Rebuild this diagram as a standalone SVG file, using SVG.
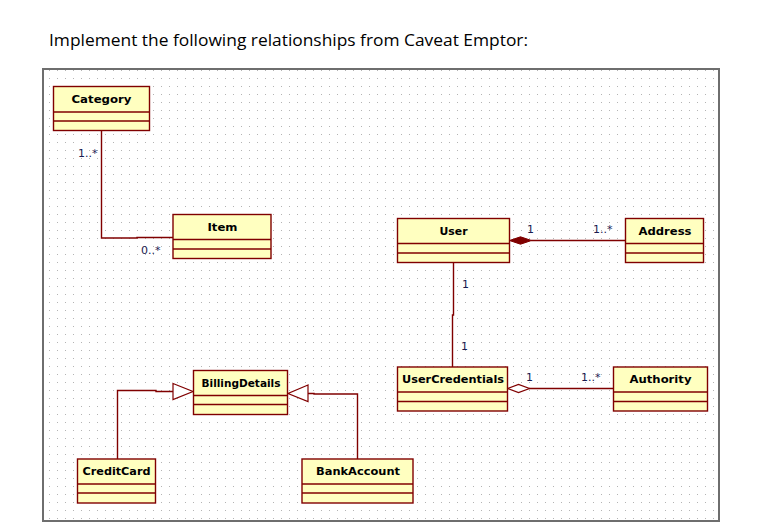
<svg xmlns="http://www.w3.org/2000/svg" width="759" height="532" viewBox="0 0 759 532">
<style>
.box{fill:#ffffc0;stroke:#800000;stroke-width:1.4}
.div{stroke:#800000;stroke-width:1.4}
.name{font-family:"DejaVu Sans",Verdana,sans-serif;font-weight:bold;font-size:11px;fill:#000;text-anchor:middle}
.lbl{font-family:"DejaVu Sans",Verdana,sans-serif;font-size:11px;fill:#1a1a50}
.edge{fill:none;stroke:#800000;stroke-width:1.4}
</style>
<defs>
<pattern id="dots" patternUnits="userSpaceOnUse" x="1" y="6" width="8" height="8">
<rect x="0" y="0" width="1" height="1" fill="#b4b4b4"/>
</pattern>
</defs>
<rect width="759" height="532" fill="#fff"/>
<text x="49" y="46" font-family="'Open Sans','Noto Sans',sans-serif" font-size="16" fill="#000" textLength="479" lengthAdjust="spacingAndGlyphs">Implement the following relationships from Caveat Emptor:</text>
<rect x="44" y="70" width="674" height="450" fill="url(#dots)"/>
<rect x="43" y="69" width="676" height="452" fill="none" stroke="#6e6e6e" stroke-width="2"/>

<g id="connectors">
<polyline class="edge" points="101.5,130 101.5,238 137,238 137,237.5 173,237.5"/>
<line class="edge" x1="531" y1="240.5" x2="625" y2="240.5"/>
<polygon points="509.5,240.5 520.5,236.8 531.5,240.5 520.5,244.2" fill="#800000" stroke="#800000" stroke-width="1"/>
<polyline class="edge" points="453.5,262 453.5,315 452.5,315 452.5,367"/>
<line class="edge" x1="529" y1="388.5" x2="613" y2="388.5"/>
<polygon points="507.5,388.5 518.5,384.5 529.5,388.5 518.5,392.5" fill="#fff" stroke="#800000" stroke-width="1.2"/>
<polyline class="edge" points="117.5,459 117.5,390.5 156,390.5 156,391.5 173,391.5"/>
<polygon points="173,383.5 193,391.5 173,399.5" fill="#fff" stroke="#800000" stroke-width="1.2"/>
<polyline class="edge" points="357.5,459 357.5,394 314,394 314,393.5 308,393.5"/>
<polygon points="308,385 288,393.5 308,401.5" fill="#fff" stroke="#800000" stroke-width="1.2"/>
<text class="lbl" x="78" y="157">1..*</text>
<text class="lbl" x="141" y="254">0..*</text>
<text class="lbl" x="527" y="233">1</text>
<text class="lbl" x="593" y="233">1..*</text>
<text class="lbl" x="462" y="288">1</text>
<text class="lbl" x="461" y="350">1</text>
<text class="lbl" x="526" y="381">1</text>
<text class="lbl" x="581" y="381">1..*</text>
</g>

<g id="Category">
<rect class="box" x="53.5" y="86.5" width="96" height="44"/>
<line class="div" x1="53.5" y1="112" x2="149.5" y2="112"/>
<line class="div" x1="53.5" y1="121" x2="149.5" y2="121"/>
<text class="name" x="101.5" y="103" textLength="60" lengthAdjust="spacingAndGlyphs">Category</text>
</g>
<g id="Item">
<rect class="box" x="173" y="214.5" width="98" height="44"/>
<line class="div" x1="173" y1="239.5" x2="271" y2="239.5"/>
<line class="div" x1="173" y1="249" x2="271" y2="249"/>
<text class="name" x="222.5" y="230.5" textLength="30" lengthAdjust="spacingAndGlyphs">Item</text>
</g>
<g id="User">
<rect class="box" x="397.5" y="218.5" width="112" height="44"/>
<line class="div" x1="397.5" y1="243.5" x2="509.5" y2="243.5"/>
<line class="div" x1="397.5" y1="253" x2="509.5" y2="253"/>
<text class="name" x="453.5" y="234.5" textLength="28" lengthAdjust="spacingAndGlyphs">User</text>
</g>
<g id="Address">
<rect class="box" x="625.5" y="218.5" width="78" height="44"/>
<line class="div" x1="625.5" y1="243.5" x2="703.5" y2="243.5"/>
<line class="div" x1="625.5" y1="253" x2="703.5" y2="253"/>
<text class="name" x="665" y="234.5" textLength="53" lengthAdjust="spacingAndGlyphs">Address</text>
</g>
<g id="UserCredentials">
<rect class="box" x="397.5" y="367" width="110" height="44"/>
<line class="div" x1="397.5" y1="392" x2="507.5" y2="392"/>
<line class="div" x1="397.5" y1="401.5" x2="507.5" y2="401.5"/>
<text class="name" x="453" y="383" textLength="102" lengthAdjust="spacingAndGlyphs">UserCredentials</text>
</g>
<g id="Authority">
<rect class="box" x="613.5" y="367" width="94" height="44"/>
<line class="div" x1="613.5" y1="392" x2="707.5" y2="392"/>
<line class="div" x1="613.5" y1="401.5" x2="707.5" y2="401.5"/>
<text class="name" x="660.5" y="383" textLength="62" lengthAdjust="spacingAndGlyphs">Authority</text>
</g>
<g id="BillingDetails">
<rect class="box" x="193.5" y="370.5" width="94" height="44"/>
<line class="div" x1="193.5" y1="395.5" x2="287.5" y2="395.5"/>
<line class="div" x1="193.5" y1="404.5" x2="287.5" y2="404.5"/>
<text class="name" x="241" y="386.5" textLength="79" lengthAdjust="spacingAndGlyphs">BillingDetails</text>
</g>
<g id="CreditCard">
<rect class="box" x="77.5" y="459" width="78" height="44"/>
<line class="div" x1="77.5" y1="484" x2="155.5" y2="484"/>
<line class="div" x1="77.5" y1="493" x2="155.5" y2="493"/>
<text class="name" x="116.5" y="475" textLength="68" lengthAdjust="spacingAndGlyphs">CreditCard</text>
</g>
<g id="BankAccount">
<rect class="box" x="302" y="459" width="111" height="44"/>
<line class="div" x1="302" y1="484" x2="413" y2="484"/>
<line class="div" x1="302" y1="493" x2="413" y2="493"/>
<text class="name" x="358" y="475" textLength="84" lengthAdjust="spacingAndGlyphs">BankAccount</text>
</g>
</svg>
